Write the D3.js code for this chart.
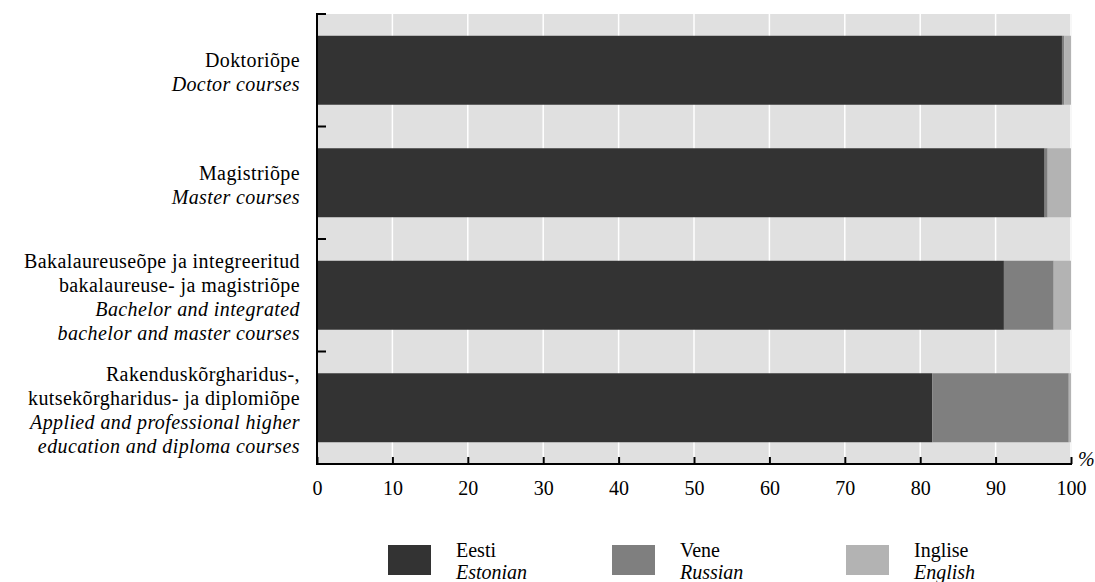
<!DOCTYPE html>
<html><head><meta charset="utf-8">
<script src="https://cdn.jsdelivr.net/npm/d3@7"></script>
<style>body{margin:0;background:#fff}svg{display:block}svg text{font-family:"Liberation Serif","Times New Roman",serif;fill:#000}</style>
</head><body><svg id="c" width="1095" height="582"></svg>
<script>
const categories = ["doctor","master","bachelor","applied"];
const catLabelsEt = [["Doktoriõpe"],["Magistriõpe"],["Bakalaureuseõpe ja integreeritud","bakalaureuse- ja magistriõpe"],["Rakenduskõrgharidus-,","kutsekõrgharidus- ja diplomiõpe"]];
const catLabelsEn = [["Doctor courses"],["Master courses"],["Bachelor and integrated","bachelor and master courses"],["Applied and professional higher","education and diploma courses"]];
const seriesKeys = ["Eesti","Vene","Inglise"];
const seriesEn = ["Estonian","Russian","English"];
const estonian = [98.8, 96.5, 91.1, 81.6];
const russian = [0.3, 0.4, 6.6, 18.1];
const english = [0.9, 3.1, 2.3, 0.3];
const xTicks = [0,10,20,30,40,50,60,70,80,90,100];
const colors = ["#333333","#7f7f7f","#b3b3b3"];

const svg = d3.select("#c");
const L = 317, R = 1071, T = 14, B = 464;
const x = d3.scaleLinear().domain([0,100]).range([L, R]);
const y = d3.scaleBand().domain(categories).range([T, B]).paddingInner(0.387).paddingOuter(0.1935);
const yb = d3.scaleBand().domain(categories).range([T, B]);

svg.append("rect").attr("x", L).attr("y", T).attr("width", R - L + 1).attr("height", B - T).attr("fill", "#e0e0e0");
svg.append("g").selectAll("line").data(xTicks.slice(1)).join("line")
  .attr("x1", d => x(d)).attr("x2", d => x(d)).attr("y1", T).attr("y2", B)
  .attr("stroke", "#fff").attr("stroke-width", 1.5);

const rows = categories.map((c, i) => ({c, vals: [estonian[i], russian[i], english[i]]}));
const stack = d3.stack().keys([0,1,2]).value((d, k) => d.vals[k]);
const stacked = stack(rows);
svg.append("g").selectAll("g").data(stacked).join("g").attr("fill", (d, i) => colors[i])
  .selectAll("rect").data(d => d).join("rect")
  .attr("x", d => x(d[0])).attr("width", d => x(d[1]) - x(d[0]))
  .attr("y", d => y(d.data.c)).attr("height", y.bandwidth());

// y axis
const yAxis = svg.append("g");
yAxis.append("line").attr("x1", L).attr("x2", L).attr("y1", T - 1).attr("y2", B + 1).attr("stroke", "#000").attr("stroke-width", 2);
yAxis.selectAll(".yt").data(categories).join("line")
  .attr("x1", L).attr("x2", L + 9).attr("y1", d => yb(d)).attr("y2", d => yb(d))
  .attr("stroke", "#000").attr("stroke-width", 2);

// x axis
const xAxis = d3.axisBottom(x).tickValues(xTicks).tickSize(-7).tickPadding(17).tickFormat(d3.format("d"));
const gx = svg.append("g").attr("transform", `translate(0,${B})`).call(xAxis).attr("font-size", 20);
gx.select(".domain").attr("stroke-width", 2).attr("d", `M${L - 1},0H${R + 1}`);
gx.selectAll(".tick line").attr("stroke-width", 2);
gx.selectAll(".tick text").attr("font-size", 20).attr("dy", "0.71em");
svg.append("text").attr("x", 1078).attr("y", 466).attr("font-size", 20).attr("font-style", "italic").text("%");

// category labels
const lh = 24;
categories.forEach((c, i) => {
  const lines = catLabelsEt[i].map(t => ({t, it: false})).concat(catLabelsEn[i].map(t => ({t, it: true})));
  const cy = y(c) + y.bandwidth() / 2 + 2;
  const y0 = cy - (lines.length - 1) * lh / 2;
  lines.forEach((ln, j) => {
    svg.append("text").attr("x", 300).attr("y", y0 + j * lh).attr("dy", "0.35em")
      .attr("text-anchor", "end").attr("font-size", 20)
      .attr("letter-spacing", 0.4)
      .attr("font-style", ln.it ? "italic" : "normal").text(ln.t);
  });
});

// legend
const legX = [388, 612, 846];
seriesKeys.forEach((k, i) => {
  svg.append("rect").attr("x", legX[i]).attr("y", 545).attr("width", 43).attr("height", 30).attr("fill", colors[i]);
  svg.append("text").attr("x", legX[i] + 68).attr("y", 557).attr("font-size", 20).text(k);
  svg.append("text").attr("x", legX[i] + 68).attr("y", 579).attr("font-size", 20).attr("font-style", "italic").text(seriesEn[i]);
});
</script></body></html>
